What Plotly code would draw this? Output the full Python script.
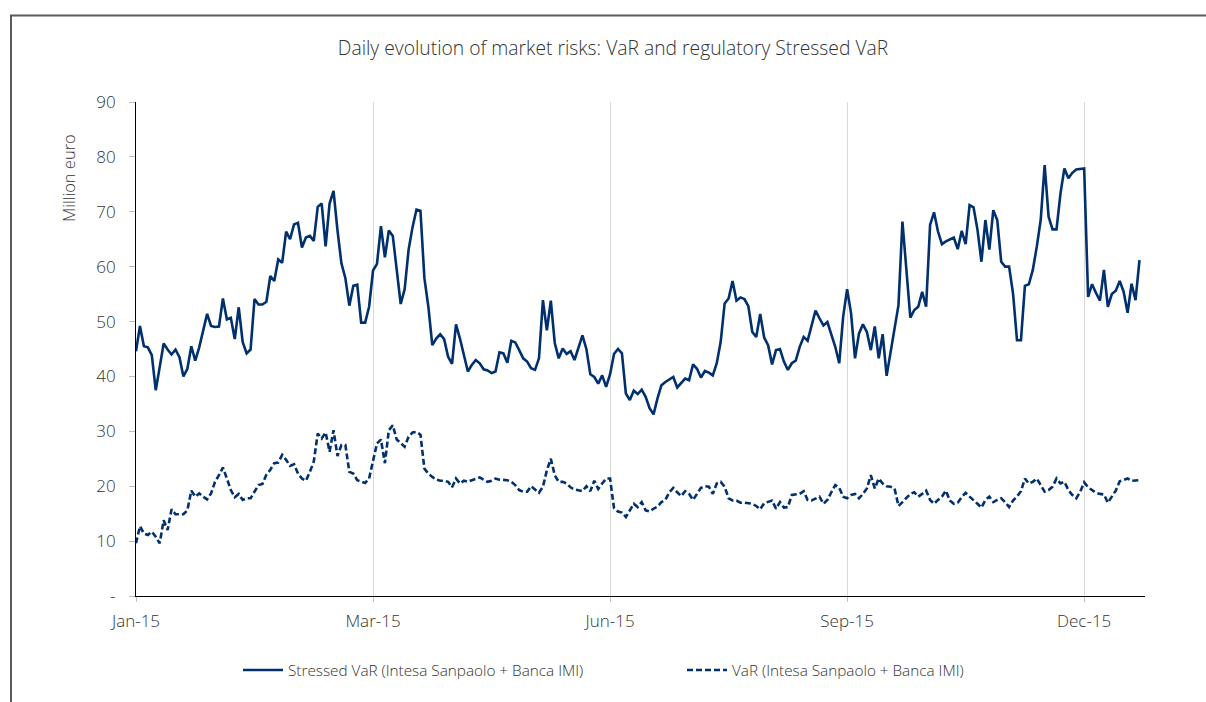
import plotly.graph_objects as go

# ---------------- data ----------------
tick_labels = ["Jan-15", "Mar-15", "Jun-15", "Sep-15", "Dec-15"]
tick_index = [0, 60, 120, 180, 240]

stressed_var = [
    44.6, 49.2, 45.5, 45.3, 43.9, 37.5, 41.7, 46.0, 44.9, 44.0,
    44.9, 43.5, 40.0, 41.4, 45.5, 42.9, 45.3, 48.3, 51.4, 49.2,
    49.0, 49.1, 54.2, 50.4, 50.7, 46.8, 52.6, 46.3, 44.2, 44.9,
    54.1, 53.1, 53.1, 53.6, 58.3, 57.4, 61.3, 60.7, 66.4, 65.0,
    67.7, 68.0, 63.5, 65.3, 65.6, 64.7, 70.9, 71.5, 63.7, 71.5,
    73.8, 66.6, 60.6, 57.9, 52.9, 56.5, 56.7, 49.8, 49.8, 52.7,
    59.3, 60.5, 67.4, 61.7, 66.6, 65.6, 59.7, 53.2, 55.9, 63.1,
    67.2, 70.4, 70.2, 57.9, 52.7, 45.7, 46.9, 47.7, 46.8, 43.6,
    42.3, 49.5, 46.9, 43.9, 40.9, 42.1, 43.0, 42.4, 41.3, 41.1,
    40.6, 40.9, 44.4, 44.2, 42.5, 46.5, 46.2, 44.8, 43.3, 42.7,
    41.5, 41.2, 43.3, 53.9, 48.4, 53.8, 46.1, 43.3, 45.1, 44.1,
    44.6, 43.0, 45.4, 47.5, 45.0, 40.4, 39.9, 38.7, 40.2, 38.1,
    40.4, 44.1, 45.0, 44.2, 36.9, 35.7, 37.4, 36.8, 37.6, 36.3,
    34.2, 33.1, 36.0, 38.4, 39.0, 39.5, 39.9, 38.0, 38.9, 39.6,
    39.3, 42.2, 41.4, 39.8, 41.0, 40.7, 40.2, 42.4, 46.3, 53.3,
    54.2, 57.4, 53.8, 54.4, 54.1, 52.8, 48.1, 47.2, 51.4, 47.1,
    45.7, 42.2, 44.8, 45.0, 42.7, 41.2, 42.4, 42.9, 45.4, 47.2,
    46.5, 49.1, 52.0, 50.6, 49.3, 49.9, 47.8, 45.4, 42.4, 50.9,
    55.9, 51.5, 43.3, 47.8, 49.5, 48.1, 44.8, 49.1, 43.3, 47.7,
    40.1, 44.2, 48.8, 53.0, 68.2, 60.0, 50.7, 52.1, 52.7, 55.4,
    52.7, 67.6, 69.9, 66.4, 64.1, 64.6, 65.0, 65.3, 63.2, 66.5,
    64.1, 71.2, 70.8, 66.7, 60.9, 68.5, 63.1, 70.3, 68.5, 60.9,
    60.0, 60.0, 55.1, 46.6, 46.6, 56.5, 56.8, 59.4, 63.6, 68.5,
    78.5, 69.1, 66.8, 66.8, 73.3, 77.9, 76.1, 77.1, 77.7, 77.8,
    77.9, 54.5, 56.8, 55.2, 53.8, 59.4, 52.7, 55.0, 55.6, 57.4,
    55.4, 51.6, 56.9, 53.9, 61.2,
]

var_values = [
    9.6, 12.7, 11.4, 11.1, 11.7, 10.8, 9.6, 13.8, 12.0, 15.8,
    14.9, 14.9, 14.9, 15.6, 19.2, 18.1, 18.7, 18.1, 17.6, 18.7,
    20.8, 22.0, 23.4, 21.4, 19.3, 18.0, 18.6, 17.5, 17.8, 17.8,
    19.0, 20.2, 20.4, 22.1, 23.0, 24.2, 24.3, 25.7, 24.8, 23.7,
    24.0, 22.3, 21.4, 21.0, 22.6, 24.5, 29.6, 28.7, 29.8, 26.3,
    30.2, 25.5, 27.5, 27.5, 22.6, 22.3, 21.1, 20.8, 20.6, 21.4,
    24.5, 27.8, 28.5, 24.2, 30.2, 31.1, 28.5, 27.8, 27.2, 29.0,
    29.8, 29.9, 29.4, 23.2, 22.3, 21.7, 21.2, 21.0, 21.0, 20.8,
    19.8, 21.4, 20.5, 21.0, 20.8, 21.1, 21.3, 21.6, 21.2, 20.8,
    21.0, 21.4, 21.2, 21.1, 21.1, 20.8, 20.2, 19.3, 19.0, 19.0,
    20.0, 19.4, 18.8, 19.9, 22.9, 25.0, 22.0, 20.8, 20.8, 20.5,
    19.8, 19.4, 19.3, 19.1, 20.0, 19.1, 21.0, 19.5, 20.5, 21.4,
    21.4, 16.0, 15.4, 15.2, 14.4, 15.6, 16.8, 16.2, 17.1, 15.6,
    15.4, 15.9, 16.3, 17.1, 17.5, 18.9, 19.7, 18.9, 18.2, 19.1,
    18.6, 17.5, 18.6, 19.7, 20.0, 19.9, 18.6, 20.5, 20.8, 19.9,
    17.8, 17.4, 17.4, 17.0, 17.0, 16.9, 16.8, 16.4, 15.8, 16.9,
    17.1, 17.4, 15.9, 17.1, 16.1, 16.2, 18.4, 18.5, 18.6, 19.1,
    17.5, 17.4, 17.8, 18.1, 16.8, 17.5, 18.9, 20.2, 19.7, 18.1,
    17.8, 18.4, 18.6, 17.8, 18.6, 19.6, 22.0, 19.6, 21.4, 20.5,
    20.0, 19.9, 19.6, 16.4, 17.1, 17.9, 18.6, 18.9, 18.1, 18.6,
    19.2, 17.5, 16.8, 17.5, 18.1, 19.2, 17.4, 16.8, 17.0, 18.0,
    18.8, 18.1, 17.5, 16.8, 16.1, 17.5, 18.1, 17.1, 17.5, 17.8,
    17.1, 16.2, 17.4, 18.1, 19.1, 21.4, 20.5, 20.8, 21.4, 20.2,
    19.0, 19.3, 19.9, 21.4, 20.5, 20.8, 19.3, 18.4, 17.8, 19.0,
    20.7, 19.8, 19.3, 18.8, 18.6, 18.5, 17.0, 18.1, 19.2, 20.9,
    21.1, 21.4, 21.0, 21.1, 21.1,
]

y_ticks = [0, 10, 20, 30, 40, 50, 60, 70, 80, 90]
y_tick_labels = ["-", "10", "20", "30", "40", "50", "60", "70", "80", "90"]

# ---------------- styling ----------------
NAVY = "#00306E"
TEXT = "#333333"
FONT = "Open Sans"
WEIGHT = 300

W, H = 1206, 702
L, R, T, B = 136, 1145, 102, 596


def px_x(p):
    return (p - L) / (R - L)


def px_y(p):
    return (B - p) / (B - T)


def font(size):
    return dict(family=FONT, size=size, color=TEXT, weight=WEIGHT)


fig = go.Figure()
fig.add_trace(go.Scatter(
    x=list(range(len(stressed_var))), y=stressed_var, mode="lines",
    name="Stressed VaR (Intesa Sanpaolo + Banca IMI)",
    line=dict(color=NAVY, width=2.6),
    legend="legend",
))
fig.add_trace(go.Scatter(
    x=list(range(len(var_values))), y=var_values, mode="lines",
    name="VaR (Intesa Sanpaolo + Banca IMI)",
    line=dict(color=NAVY, width=2.6, dash="6px,3px"),
    legend="legend2",
))

legend_common = dict(
    orientation="h", xanchor="left", yanchor="middle",
    itemwidth=40, bgcolor="rgba(0,0,0,0)",
    font=font(15.3),
)

fig.update_layout(
    width=W, height=H, autosize=False,
    paper_bgcolor="white", plot_bgcolor="white",
    margin=dict(l=L, r=W - R, t=T, b=H - B, pad=0),
    font=font(14),
    title=dict(
        text="Daily evolution of market risks: VaR and regulatory Stressed VaR",
        x=613 / W, xref="container", xanchor="center",
        y=1 - 48 / H, yref="container", yanchor="middle",
        font=font(19.3),
    ),
    showlegend=True,
    legend=dict(legend_common, x=px_x(238), y=px_y(670)),
    legend2=dict(legend_common, x=px_x(682), y=px_y(670)),
    xaxis=dict(
        range=[0, 255.4],
        tickmode="array", tickvals=tick_index, ticktext=tick_labels,
        showgrid=True, gridcolor="#d9d9d9", gridwidth=1,
        showline=True, linecolor="#000000", linewidth=1,
        ticks="outside", ticklen=5, tickcolor="#bfbfbf",
        ticklabelstandoff=5,
        zeroline=False,
        tickfont=font(17),
    ),
    yaxis=dict(
        range=[0, 90],
        tickmode="array", tickvals=y_ticks, ticktext=y_tick_labels,
        showgrid=False,
        showline=True, linecolor="#000000", linewidth=1,
        ticks="outside", ticklen=6, tickcolor="#bfbfbf",
        ticklabelstandoff=10,
        zeroline=False,
        tickfont=font(17),
    ),
    annotations=[
        dict(text="Million euro", xref="paper", yref="paper",
             x=px_x(68), y=px_y(178), xanchor="center", yanchor="middle",
             textangle=-90, showarrow=False, font=font(16.5)),
    ],
    shapes=[
        dict(type="path", xref="paper", yref="paper",
             path=f"M {px_x(11)},{px_y(H + 5)} L {px_x(11)},{px_y(15.5)} L {px_x(W + 5)},{px_y(15.5)}",
             line=dict(color="#5a5a5a", width=2)),
    ],
)

fig.write_html(
    "out.html",
    config={"displayModeBar": False},
    post_script="document.body.style.margin='0';",
)
